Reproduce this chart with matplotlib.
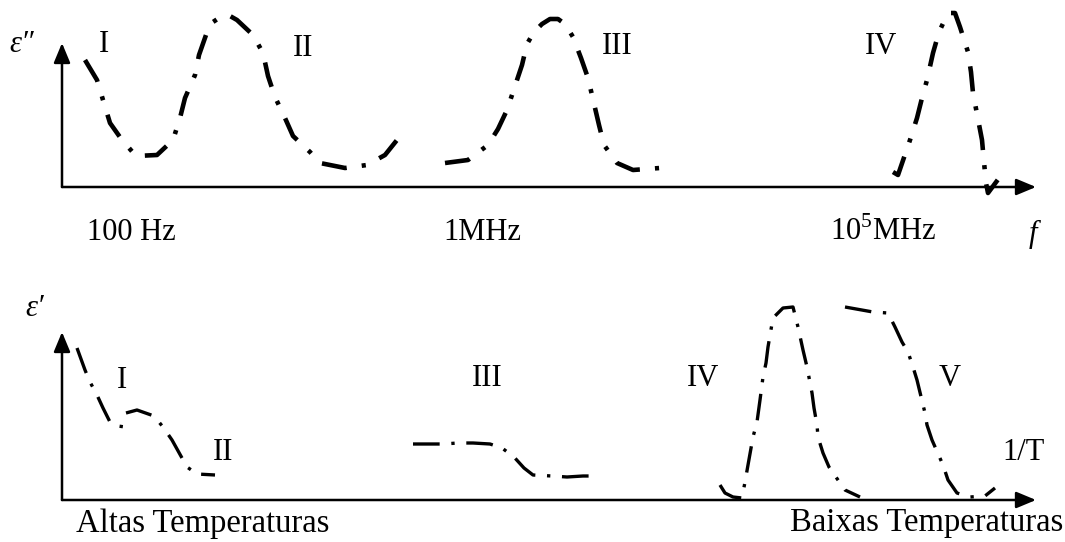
import matplotlib
matplotlib.use('Agg')
import matplotlib.pyplot as plt

plt.rcParams['font.family'] = ['Liberation Serif', 'DejaVu Serif']
plt.rcParams['mathtext.fontset'] = 'custom'
plt.rcParams['mathtext.rm'] = 'Liberation Serif'

# sketch coordinates (x to the right, y downwards)
# upper panel: loss factor vs frequency
loss_x = [85, 97, 103, 110, 122, 136, 157, 173, 180, 185, 195, 199, 206, 213, 222, 230,
          237, 253, 263, 268, 275, 285, 293, 310, 320, 345, 367, 385, 397]
loss_y = [60, 80, 100, 123, 140, 156, 155, 140, 118, 98, 75, 55, 35, 22, 16, 16,
          20, 35, 53, 76, 97, 118, 136, 152, 163, 168, 165, 155, 140]

loss3_x = [445, 468, 488, 498, 507, 522, 527, 534, 542, 550, 558, 565, 573, 581, 588, 599, 604, 617, 633, 660]
loss3_y = [163, 160, 145, 129, 110, 65, 44, 32, 24, 19, 19, 24, 37, 58, 78, 125, 145, 163, 170, 168]

loss4_x = [893, 898, 910, 917, 922, 927, 933, 939, 948, 955, 960, 968, 971, 973, 982, 984, 986, 988, 1005]
loss4_y = [172, 175, 140, 118, 98, 80, 53, 32, 13, 13, 27, 52, 72, 93, 140, 162, 183, 193, 170]

# lower panel: permittivity vs 1/T
perm1a_x = [77, 85, 90, 97, 103, 110, 118, 125]
perm1a_y = [348, 370, 382, 395, 408, 422, 426, 427]
perm1b_x = [126, 137, 154, 163, 172, 187, 197, 215]
perm1b_y = [413, 410, 416, 427, 440, 467, 474, 475]

perm3_x = [413, 443, 458, 473, 490, 502, 514, 524, 533, 552, 567, 583, 596]
perm3_y = [444, 444, 443, 443, 444, 448, 457, 468, 475, 476, 477, 476, 476]

perm4_x = [720, 725, 733, 742, 745, 748, 753, 757, 760, 763, 766, 768, 773, 783, 793,
           798, 803, 807, 812, 814, 817, 818, 823, 829, 838, 845, 860]
perm4_y = [485, 493, 497, 498, 482, 465, 437, 422, 400, 377, 363, 347, 318, 308, 307,
           327, 350, 367, 393, 408, 425, 437, 453, 467, 480, 490, 497]

perm5_x = [845, 873, 888, 895, 902, 908, 913, 917, 925, 927, 932, 943, 948, 957, 970, 985, 995]
perm5_y = [307, 312, 313, 327, 342, 352, 367, 380, 413, 425, 440, 465, 480, 493, 497, 496, 488]

fig = plt.figure(figsize=(10.65, 5.42), dpi=100)
ax = fig.add_axes([0, 0, 1, 1])
ax.set_xlim(0, 1065)
ax.set_ylim(542, 0)
ax.axis('off')

arrow = dict(arrowstyle='-|>,head_length=0.6,head_width=0.25', lw=1.8, color='black',
             mutation_scale=20, shrinkA=0, shrinkB=0)
for ox, oy, tx, ty in [(62, 187, 1036, 187), (62, 187, 62, 43),
                       (62, 500, 1036, 500), (62, 500, 62, 332)]:
    ax.annotate('', xy=(tx, ty), xytext=(ox, oy), arrowprops=arrow)

top_style = dict(color='black', lw=3.3, linestyle=(0, (5.5, 3.3, 0.9, 3.3)),
                 solid_joinstyle='round')
bot_style = dict(color='black', lw=2.4, linestyle=(0, (8, 3.5, 1, 3.5)),
                 solid_joinstyle='round')

ax.plot(loss_x, loss_y, **top_style)
ax.plot(loss3_x, loss3_y, **top_style)
ax.plot(loss4_x, loss4_y, **top_style)

ax.plot(perm1a_x, perm1a_y, **bot_style)
ax.plot(perm1b_x, perm1b_y, **bot_style)
ax.plot(perm3_x, perm3_y, **bot_style)
ax.plot(perm4_x, perm4_y, **bot_style)
ax.plot(perm5_x, perm5_y, **bot_style)

fs = 22
ax.text(22, 45, 'ε″', fontsize=fs, style='italic', ha='center', va='center')
ax.text(35, 309, 'ε′', fontsize=fs, style='italic', ha='center', va='center')

for s, x, y in [('I', 104, 45), ('II', 303, 48), ('III', 617, 47), ('IV', 881, 47),
                ('I', 122, 380), ('II', 223, 452), ('III', 487, 378), ('IV', 703, 378),
                ('V', 950, 378), ('1/T', 1024, 453)]:
    ax.text(x, y, s, fontsize=fs, ha='center', va='center')

ax.text(131, 232, '100 Hz', fontsize=fs, ha='center', va='center')
ax.text(482, 232, '1MHz', fontsize=fs, ha='center', va='center')
ax.text(883, 232, r'10$^{\mathrm{5}}$MHz', fontsize=fs, ha='center', va='center')
ax.text(1033, 234, 'f', fontsize=fs, style='italic', ha='center', va='center')

ax.text(203, 524, 'Altas Temperaturas', fontsize=23.5, ha='center', va='center')
ax.text(927, 523, 'Baixas Temperaturas', fontsize=23.5, ha='center', va='center')

fig.savefig('out.png', dpi=100, facecolor='white')
